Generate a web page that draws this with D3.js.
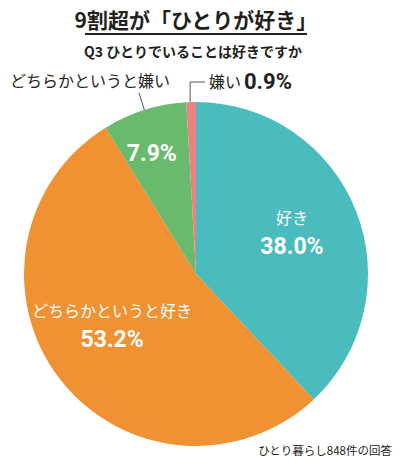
<!DOCTYPE html>
<html>
<head>
<meta charset="utf-8">
<script src="https://cdn.jsdelivr.net/npm/d3@7"></script>
<style>
  body { margin: 0; background: #fff; }
  svg { display: block; font-family: "Noto Sans CJK JP", "Noto Sans", sans-serif; }
  .num { font-family: Roboto, "Liberation Sans", sans-serif; font-weight: 700; }
</style>
</head>
<body>
<div id="chart"></div>
<script>
const categories = ["好き", "どちらかというと好き", "どちらかというと嫌い", "嫌い"];
const values = [38.0, 53.2, 7.9, 0.9];
const colors = ["#4bbcbd", "#f09232", "#69ba6d", "#ec8182"];

const width = 400, height = 462;
const cx = 196, cy = 274, radius = 172;
const ink = "#231f20";
const fmt = v => d3.format(".1f")(v) + "%";

const svg = d3.select("#chart")
  .append("svg")
    .attr("width", width)
    .attr("height", height);

// title + underline
svg.append("text")
    .attr("x", 196)
    .attr("y", 28)
    .attr("text-anchor", "middle")
    .style("font-size", "21px")
    .style("font-weight", 700)
    .attr("fill", ink)
    .text("9割超が「ひとりが好き」");

svg.append("line")
    .attr("x1", 85).attr("x2", 307)
    .attr("y1", 34).attr("y2", 34)
    .attr("stroke", ink)
    .attr("stroke-width", 2);

svg.append("text")
    .attr("x", 193)
    .attr("y", 57)
    .attr("text-anchor", "middle")
    .style("font-size", "14px")
    .style("font-weight", 700)
    .attr("fill", ink)
    .text("Q3 ひとりでいることは好きですか");

const data = categories.map((c, i) => ({group: c, value: values[i], color: colors[i]}));

const pie = d3.pie()
  .sort(null)
  .value(d => d.value);

const arcs = pie(data);

const arc = d3.arc()
  .innerRadius(0)
  .outerRadius(radius);

const g = svg.append("g")
    .attr("transform", `translate(${cx},${cy})`);

g.selectAll("path")
  .data(arcs)
  .join("path")
    .attr("d", arc)
    .attr("fill", d => d.data.color);

// inside labels
const labelR = d => d.data.value > 30 ? radius * 0.6 : radius * 0.74;
const inside = arcs.filter(d => d.data.value > 5);

inside.forEach(d => {
  const a = (d.startAngle + d.endAngle) / 2;
  const r = labelR(d);
  let x = Math.sin(a) * r, y = -Math.cos(a) * r;
  if (d.data.value > 50) { y -= 8; x -= 2; }
  if (d.data.value < 10) { x -= 6; }
  if (d.data.value > 30) {
    g.append("text")
        .attr("x", x).attr("y", y - 12)
        .attr("text-anchor", "middle")
        .attr("fill", "#fff")
        .style("font-size", "16px")
        .style("font-weight", 400)
        .text(d.data.group);
  }
  g.append("text")
      .attr("class", "num")
      .attr("x", x).attr("y", d.data.value > 30 ? y + 18 : y + 8)
      .attr("text-anchor", "middle")
      .attr("fill", "#fff")
      .style("font-size", "23px")
      .text(fmt(d.data.value));
});

// outside label: どちらかというと嫌い
const green = arcs[2];
const ga = (green.startAngle + green.endAngle) / 2;
g.append("line")
    .attr("x1", Math.sin(ga) * radius).attr("y1", -Math.cos(ga) * radius)
    .attr("x2", Math.sin(ga) * (radius + 18)).attr("y2", -Math.cos(ga) * (radius + 18))
    .attr("stroke", "#555")
    .attr("stroke-width", 1);

svg.append("text")
    .attr("x", 10)
    .attr("y", 87)
    .style("font-size", "16px")
    .style("font-weight", 400)
    .attr("fill", ink)
    .text(green.data.group);

// outside label: 嫌い 0.9%
const pink = arcs[3];
const pa = (pink.startAngle + pink.endAngle) / 2;
const px = cx + Math.sin(pa) * radius - 1, py = cy - Math.cos(pa) * radius;
svg.append("polyline")
    .attr("points", `${px},${py} ${px},82 205,82`)
    .attr("fill", "none")
    .attr("stroke", "#555")
    .attr("stroke-width", 1);

svg.append("text")
    .attr("x", 209)
    .attr("y", 88)
    .attr("fill", ink)
    .style("font-size", "16px")
    .style("font-weight", 400)
    .text(pink.data.group);

svg.append("text")
    .attr("class", "num")
    .attr("x", 244)
    .attr("y", 89)
    .attr("fill", ink)
    .style("font-size", "22px")
    .text(fmt(pink.data.value));

// footnote
svg.append("text")
    .attr("x", 392)
    .attr("y", 455)
    .attr("text-anchor", "end")
    .style("font-size", "11.5px")
    .attr("fill", ink)
    .text("ひとり暮らし848件の回答");
</script>
</body>
</html>
